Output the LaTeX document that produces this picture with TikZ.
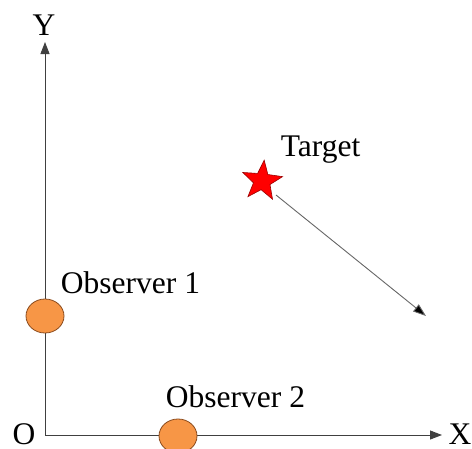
\documentclass[tikz,border=0pt]{standalone}
\usepackage{fontspec}
\setmainfont{Liberation Serif}
\usetikzlibrary{shapes.geometric,arrows.meta}
\definecolor{obsfill}{HTML}{F79646}
\definecolor{obsline}{HTML}{8A4A1C}
\definecolor{axisgray}{HTML}{404040}
\tikzset{
  lbl/.style={inner sep=0pt, anchor=base, font=\fontsize{31.5}{34}\selectfont},
  observer/.style={ellipse, draw=obsline, line width=0.8pt, fill=obsfill, minimum width=38pt, minimum height=34pt, inner sep=0pt},
  axisline/.style={draw=axisgray, line width=1pt, -{Triangle[length=12pt,width=9pt]}},
  motion/.style={draw=gray!80!black, line width=0.9pt, -{Triangle[length=13pt,width=9pt,fill=black]}},
  target/.style={star, star points=5, star point ratio=2.4, minimum size=42pt, inner sep=0pt, fill=red, draw=red!60!black, line width=0.6pt, rotate=-6}
}
\begin{document}
\begin{tikzpicture}[x=1pt,y=1pt]
\useasboundingbox (0,0) rectangle (472,-448);
\clip (0,0) rectangle (472,-448);
\coordinate (orig) at (45,-435);
\coordinate (ytip) at (45,-42);
\coordinate (xtip) at (442,-435);
\coordinate (mstart) at (276,-195);
\coordinate (mend) at (426,-316);
\node[lbl] (ylab) at (44,-35) {Y};
\node[lbl] (xlab) at (460,-444) {X};
\node[lbl] (olab) at (24,-444) {O};
\draw[axisline] (orig) -- (ytip);
\draw[axisline] (orig) -- (xtip);
\node[observer] (obs1) at (45,-316) {};
\node[observer] (obs2) at (178,-436) {};
\node[lbl] (obs1lab) at (130.5,-293) {Observer 1};
\node[lbl] (obs2lab) at (235.5,-407) {Observer 2};
\node[lbl] (tlab) at (320.5,-156) {Target};
\draw[motion] (mstart) -- (mend);
\node[target] (tgt) at (262,-181) {};
\end{tikzpicture}
\end{document}
